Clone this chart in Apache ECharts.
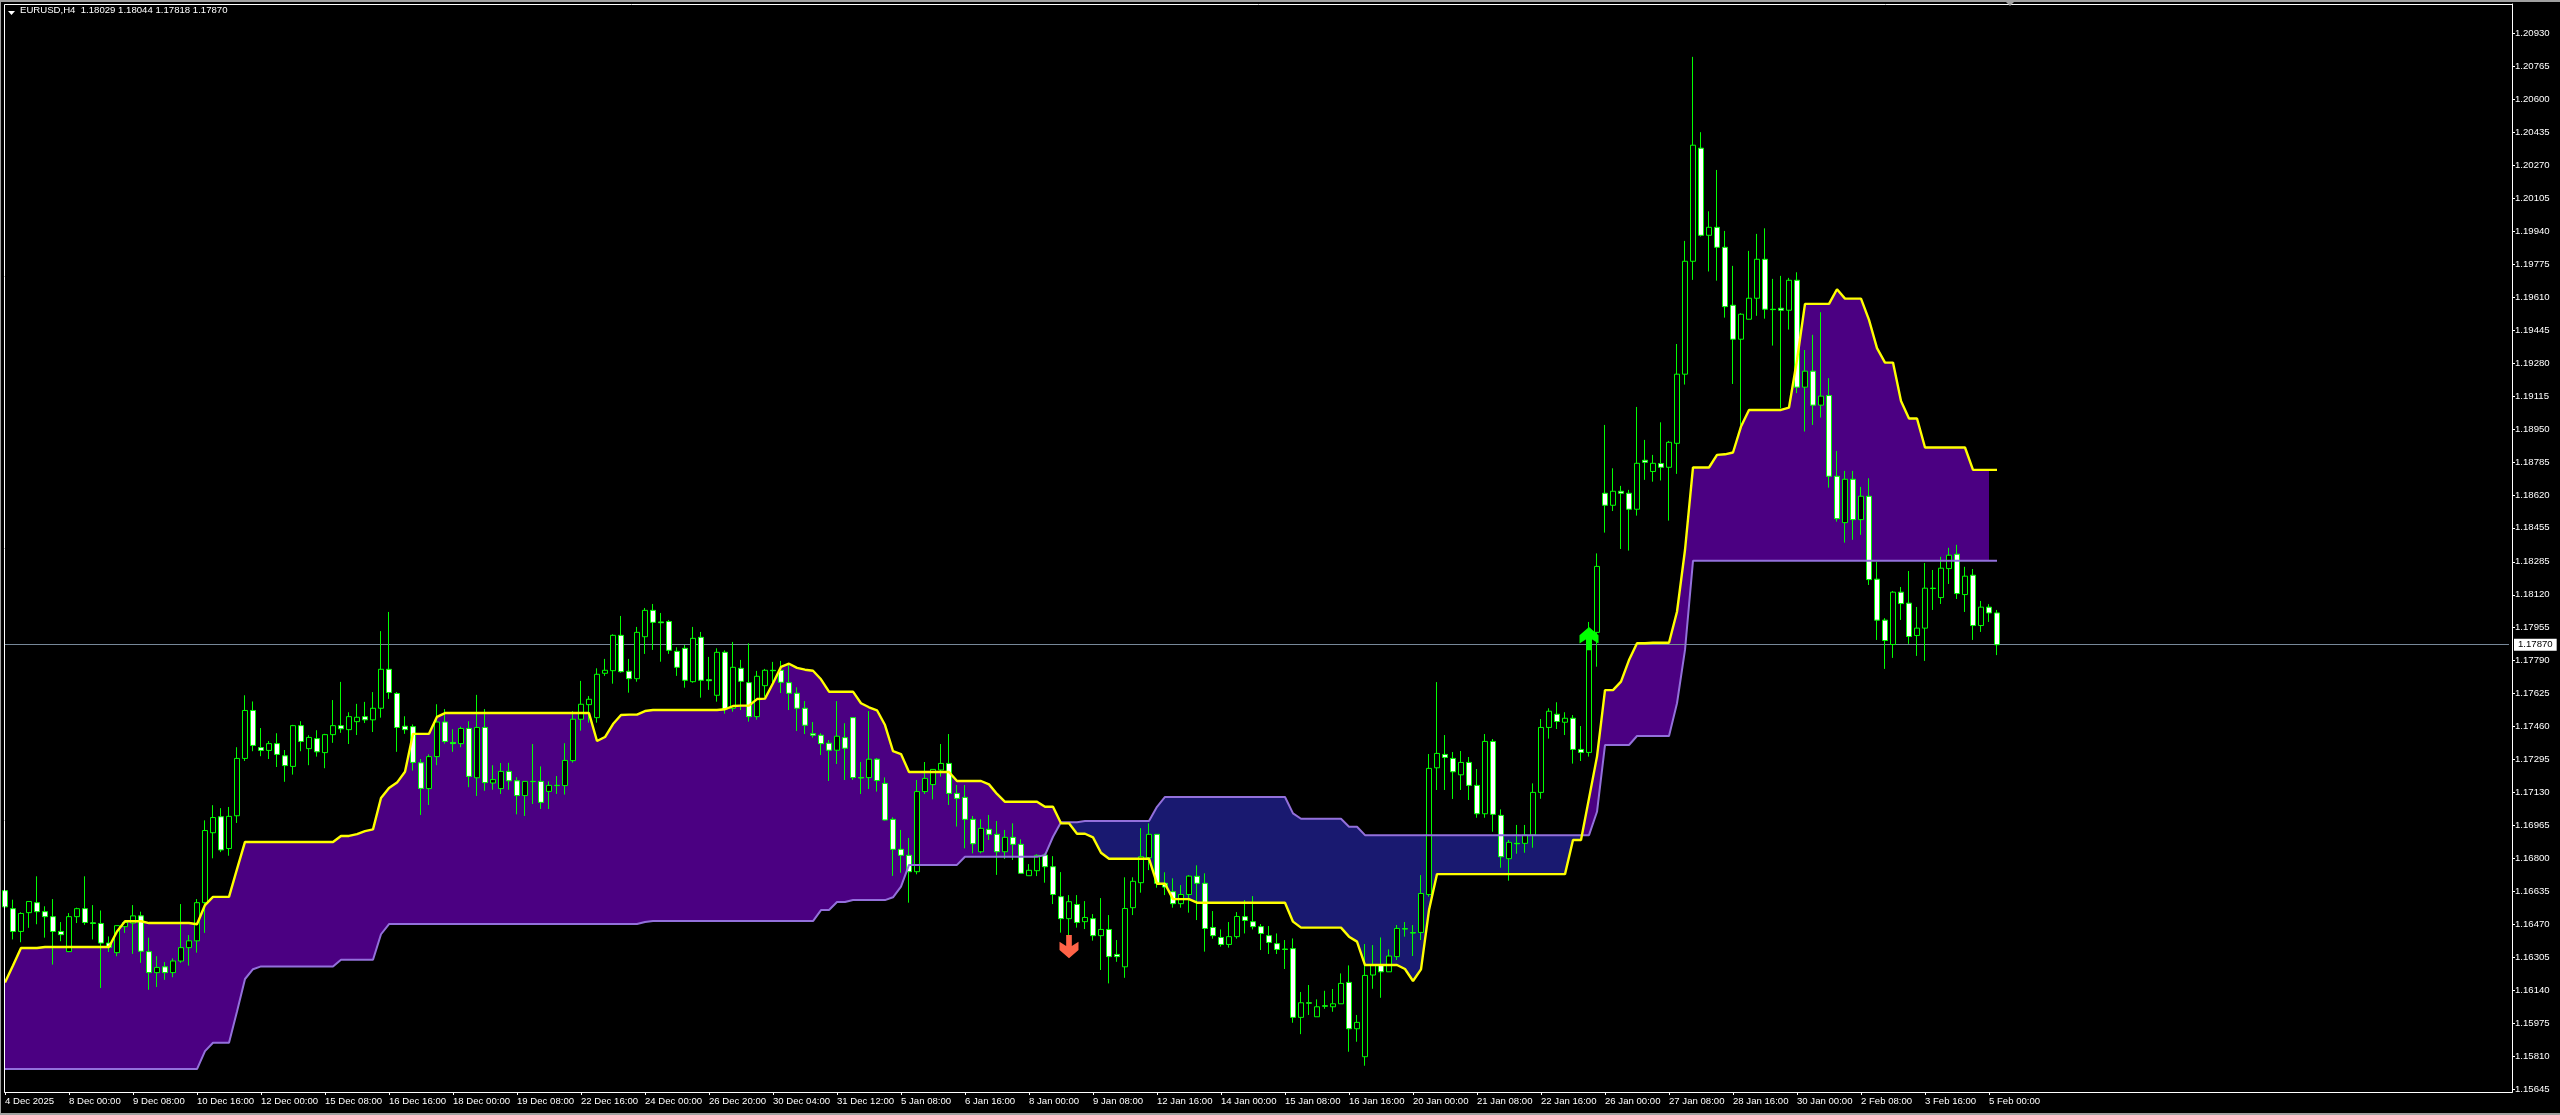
<!DOCTYPE html>
<html><head><meta charset="utf-8"><title>EURUSD,H4</title>
<script src="https://cdn.jsdelivr.net/npm/echarts@6/dist/echarts.min.js"></script>
<style>html,body{margin:0;padding:0;background:#000}#c{width:2560px;height:1115px}</style>
</head><body><div id="c"></div>
<script>
const titleText = 'EURUSD,H4  1.18029 1.18044 1.17818 1.17870';
const xTickLabels = ['4 Dec 2025','8 Dec 00:00','9 Dec 08:00','10 Dec 16:00','12 Dec 00:00','15 Dec 08:00','16 Dec 16:00','18 Dec 00:00','19 Dec 08:00','22 Dec 16:00','24 Dec 00:00','26 Dec 20:00','30 Dec 04:00','31 Dec 12:00','5 Jan 08:00','6 Jan 16:00','8 Jan 00:00','9 Jan 08:00','12 Jan 16:00','14 Jan 00:00','15 Jan 08:00','16 Jan 16:00','20 Jan 00:00','21 Jan 08:00','22 Jan 16:00','26 Jan 00:00','27 Jan 08:00','28 Jan 16:00','30 Jan 00:00','2 Feb 08:00','3 Feb 16:00','5 Feb 00:00'];
const yTickValues = [1.20930,1.20765,1.20600,1.20435,1.20270,1.20105,1.19940,1.19775,1.19610,1.19445,1.19280,1.19115,1.18950,1.18785,1.18620,1.18455,1.18285,1.18120,1.17955,1.17790,1.17625,1.17460,1.17295,1.17130,1.16965,1.16800,1.16635,1.16470,1.16305,1.16140,1.15975,1.15810,1.15645];
const yMin = 1.156315, yMax = 1.210766;
const lastPrice = 1.17870;
const sellArrow = [133, 1.16359];
const buyArrow = [198, 1.17901];

const open = [
1.16639,1.16549,1.16435,1.16529,1.16579,1.16534,1.16509,1.16435,1.16334,1.16509,
1.16549,1.16478,1.16475,1.16377,1.16329,1.16459,1.16477,1.16513,1.16334,1.16229,
1.16258,1.16229,1.16287,1.16354,1.16388,1.16579,1.16929,1.17009,1.16850,1.17014,
1.17301,1.17541,1.17355,1.17341,1.17375,1.17314,1.17261,1.17465,1.17350,1.17400,
1.17330,1.17420,1.17465,1.17445,1.17485,1.17510,1.17494,1.17552,1.17747,1.17626,
1.17462,1.17460,1.17279,1.17150,1.17310,1.17483,1.17381,1.17375,1.17451,1.17204,
1.17456,1.17178,1.17150,1.17236,1.17189,1.17115,1.17186,1.17186,1.17136,1.17166,
1.17165,1.17290,1.17497,1.17570,1.17505,1.17727,1.17740,1.17917,1.17737,1.17700,
1.17910,1.18042,1.17984,1.17986,1.17837,1.17852,1.17685,1.17907,1.17695,1.17617,
1.17832,1.17552,1.17752,1.17680,1.17510,1.17665,1.17742,1.17742,1.17680,1.17627,
1.17552,1.17425,1.17417,1.17377,1.17342,1.17405,1.17505,1.17205,1.17205,1.17297,
1.17176,1.16996,1.16846,1.16816,1.16734,1.17135,1.17170,1.17243,1.17276,1.17126,
1.17106,1.16996,1.16834,1.16946,1.16921,1.16834,1.16906,1.16871,1.16714,1.16739,
1.16817,1.16759,1.16609,1.16499,1.16570,1.16484,1.16499,1.16414,1.16445,1.16320,
1.16258,1.16554,1.16679,1.16804,1.16921,1.16676,1.16634,1.16574,1.16620,1.16711,
1.16676,1.16455,1.16405,1.16370,1.16409,1.16509,1.16484,1.16459,1.16414,1.16374,
1.16347,1.16349,1.16005,1.16078,1.16008,1.16063,1.16058,1.16073,1.16180,1.15948,
1.15808,1.16217,1.16267,1.16233,1.16309,1.16449,1.16429,1.16430,1.16620,1.17254,
1.17321,1.17301,1.17219,1.17281,1.17166,1.17024,1.17386,1.17016,1.16799,1.16876,
1.16876,1.16918,1.17131,1.17456,1.17522,1.17482,1.17502,1.17346,1.17331,1.17932,
1.18628,1.18568,1.18638,1.18628,1.18548,1.18793,1.18737,1.18777,1.18758,1.18878,
1.19224,1.19789,1.20355,1.19919,1.19959,1.19859,1.19569,1.19399,1.19499,1.19604,
1.19799,1.19549,1.19554,1.19544,1.19694,1.19159,1.19239,1.19069,1.19117,1.18713,
1.18481,1.18698,1.18496,1.18613,1.18198,1.17993,1.17871,1.18133,1.18078,1.17916,
1.17953,1.18153,1.18106,1.18251,1.18323,1.18121,1.18218,1.17966,1.18058,1.18029];
const high = [
1.16762,1.16594,1.16531,1.16585,1.16711,1.16561,1.16597,1.16482,1.16527,1.16554,
1.16711,1.16567,1.16540,1.16410,1.16464,1.16486,1.16567,1.16534,1.16404,1.16311,
1.16282,1.16300,1.16572,1.16417,1.16597,1.16991,1.17067,1.17052,1.17058,1.17357,
1.17617,1.17586,1.17453,1.17388,1.17427,1.17343,1.17469,1.17487,1.17417,1.17442,
1.17424,1.17593,1.17684,1.17532,1.17574,1.17584,1.17633,1.17938,1.18034,1.17633,
1.17512,1.17471,1.17298,1.17321,1.17572,1.17548,1.17447,1.17460,1.17487,1.17619,
1.17548,1.17267,1.17278,1.17279,1.17207,1.17186,1.17373,1.17261,1.17186,1.17213,
1.17377,1.17537,1.17689,1.17613,1.17752,1.17799,1.17922,1.18014,1.17799,1.17959,
1.18054,1.18074,1.18029,1.17994,1.17857,1.17869,1.17959,1.17934,1.17809,1.17852,
1.17842,1.17884,1.17794,1.17877,1.17739,1.17749,1.17784,1.17789,1.17769,1.17657,
1.17588,1.17483,1.17427,1.17393,1.17588,1.17477,1.17505,1.17283,1.17538,1.17303,
1.17206,1.17006,1.16943,1.16903,1.17193,1.17283,1.17246,1.17373,1.17423,1.17168,
1.17168,1.17013,1.16996,1.17018,1.16988,1.16943,1.16976,1.16896,1.16772,1.16821,
1.16826,1.16812,1.16732,1.16617,1.16617,1.16587,1.16522,1.16602,1.16517,1.16392,
1.16706,1.16706,1.16952,1.16976,1.16921,1.16731,1.16701,1.16667,1.16717,1.16766,
1.16726,1.16537,1.16445,1.16482,1.16532,1.16592,1.16612,1.16472,1.16462,1.16425,
1.16392,1.16400,1.16132,1.16167,1.16095,1.16138,1.16147,1.16225,1.16265,1.16017,
1.16372,1.16367,1.16405,1.16345,1.16467,1.16482,1.16467,1.16717,1.17323,1.17683,
1.17418,1.17333,1.17338,1.17308,1.17248,1.17423,1.17398,1.17046,1.16893,1.16968,
1.16968,1.17176,1.17498,1.17552,1.17582,1.17532,1.17518,1.17463,1.17984,1.18327,
1.18970,1.18753,1.18665,1.18645,1.19060,1.18895,1.18820,1.18983,1.18890,1.19375,
1.19891,1.20812,1.20435,1.20039,1.20246,1.19941,1.19766,1.19529,1.19841,1.19926,
1.19954,1.19701,1.19716,1.19706,1.19734,1.19345,1.19421,1.19534,1.19204,1.18840,
1.18740,1.18740,1.18660,1.18703,1.18285,1.18003,1.18139,1.18159,1.18239,1.18059,
1.18279,1.18244,1.18310,1.18355,1.18370,1.18260,1.18249,1.18089,1.18073,1.18044];
const low = [
1.16518,1.16395,1.16381,1.16453,1.16471,1.16404,1.16269,1.16386,1.16332,1.16477,
1.16468,1.16395,1.16152,1.16332,1.16311,1.16428,1.16323,1.16278,1.16143,1.16157,
1.16193,1.16206,1.16278,1.16264,1.16329,1.16428,1.16801,1.16832,1.16814,1.16978,
1.17288,1.17337,1.17312,1.17298,1.17258,1.17184,1.17220,1.17337,1.17267,1.17310,
1.17252,1.17379,1.17429,1.17373,1.17418,1.17478,1.17433,1.17505,1.17599,1.17334,
1.17424,1.17240,1.17018,1.17068,1.17267,1.17375,1.17334,1.17357,1.17157,1.17113,
1.17139,1.17144,1.17123,1.17144,1.17021,1.17013,1.17073,1.17048,1.17048,1.17123,
1.17120,1.17280,1.17440,1.17480,1.17480,1.17714,1.17675,1.17730,1.17630,1.17685,
1.17824,1.17844,1.17785,1.17824,1.17714,1.17655,1.17680,1.17605,1.17644,1.17585,
1.17525,1.17535,1.17543,1.17485,1.17495,1.17610,1.17677,1.17628,1.17543,1.17438,
1.17423,1.17405,1.17318,1.17188,1.17273,1.17193,1.17193,1.17123,1.17148,1.17135,
1.16990,1.16713,1.16729,1.16579,1.16721,1.17123,1.17096,1.17210,1.17068,1.16960,
1.16851,1.16826,1.16826,1.16893,1.16718,1.16798,1.16793,1.16726,1.16714,1.16712,
1.16679,1.16572,1.16429,1.16417,1.16454,1.16447,1.16389,1.16242,1.16175,1.16283,
1.16203,1.16517,1.16629,1.16742,1.16654,1.16617,1.16554,1.16554,1.16529,1.16492,
1.16334,1.16399,1.16359,1.16354,1.16399,1.16425,1.16445,1.16342,1.16322,1.16322,
1.16247,1.15978,1.15921,1.16017,1.16008,1.16048,1.16033,1.16073,1.15833,1.15883,
1.15763,1.16148,1.16103,1.16233,1.16292,1.16409,1.16312,1.16392,1.16609,1.17143,
1.17143,1.17098,1.17143,1.17093,1.17004,1.17004,1.16934,1.16754,1.16689,1.16824,
1.16829,1.16854,1.17099,1.17400,1.17448,1.17418,1.17275,1.17288,1.17310,1.17760,
1.18431,1.18539,1.18349,1.18341,1.18516,1.18695,1.18686,1.18692,1.18491,1.18725,
1.19172,1.19696,1.19913,1.19738,1.19692,1.19507,1.19175,1.18970,1.19499,1.19516,
1.19502,1.19367,1.19053,1.19447,1.19129,1.18937,1.18970,1.19007,1.18656,1.18486,
1.18381,1.18395,1.18420,1.18169,1.17894,1.17749,1.17804,1.17994,1.17874,1.17814,
1.17789,1.18044,1.18074,1.18174,1.18099,1.18034,1.17894,1.17934,1.17984,1.17818];
const close = [
1.16558,1.16435,1.16525,1.16585,1.16534,1.16509,1.16435,1.16419,1.16509,1.16549,
1.16480,1.16475,1.16377,1.16356,1.16464,1.16480,1.16513,1.16336,1.16229,1.16255,
1.16229,1.16287,1.16354,1.16388,1.16579,1.16940,1.17005,1.16843,1.17011,1.17301,
1.17541,1.17366,1.17341,1.17375,1.17321,1.17265,1.17465,1.17386,1.17406,1.17334,
1.17420,1.17465,1.17449,1.17510,1.17507,1.17494,1.17552,1.17747,1.17631,1.17456,
1.17445,1.17281,1.17151,1.17310,1.17483,1.17386,1.17375,1.17451,1.17211,1.17456,
1.17180,1.17195,1.17236,1.17189,1.17115,1.17186,1.17185,1.17081,1.17166,1.17165,
1.17291,1.17497,1.17572,1.17597,1.17722,1.17742,1.17917,1.17735,1.17700,1.17932,
1.18042,1.17982,1.17980,1.17842,1.17757,1.17692,1.17902,1.17692,1.17690,1.17832,
1.17548,1.17757,1.17687,1.17510,1.17712,1.17742,1.17740,1.17682,1.17627,1.17552,
1.17467,1.17417,1.17375,1.17342,1.17412,1.17352,1.17205,1.17203,1.17297,1.17190,
1.16993,1.16846,1.16816,1.16734,1.17135,1.17201,1.17246,1.17276,1.17126,1.17101,
1.16996,1.16874,1.16951,1.16921,1.16834,1.16906,1.16871,1.16726,1.16741,1.16816,
1.16759,1.16620,1.16499,1.16584,1.16480,1.16505,1.16414,1.16445,1.16309,1.16309,
1.16550,1.16686,1.16809,1.16921,1.16676,1.16657,1.16574,1.16620,1.16712,1.16676,
1.16450,1.16414,1.16370,1.16409,1.16510,1.16490,1.16459,1.16425,1.16380,1.16345,
1.16345,1.16005,1.16078,1.16076,1.16058,1.16061,1.16073,1.16175,1.15948,1.15980,
1.16215,1.16267,1.16233,1.16312,1.16450,1.16447,1.16427,1.16625,1.17251,1.17326,
1.17306,1.17234,1.17281,1.17166,1.17024,1.17386,1.17021,1.16809,1.16881,1.16874,
1.16918,1.17131,1.17456,1.17537,1.17486,1.17502,1.17346,1.17331,1.17932,1.18262,
1.18568,1.18638,1.18628,1.18548,1.18778,1.18783,1.18778,1.18758,1.18883,1.19224,
1.19789,1.20370,1.19919,1.19959,1.19859,1.19562,1.19399,1.19524,1.19604,1.19799,
1.19549,1.19547,1.19544,1.19694,1.19159,1.19239,1.19069,1.19114,1.18713,1.18501,
1.18698,1.18496,1.18613,1.18196,1.17993,1.17891,1.18133,1.18076,1.17911,1.17953,
1.18153,1.18151,1.18253,1.18318,1.18126,1.18213,1.17966,1.18058,1.18029,1.17870];
const senkouA = [
1.16179,1.16265,1.16352,1.16352,1.16352,1.16357,1.16357,1.16357,1.16357,1.16357,
1.16357,1.16357,1.16357,1.16357,1.16435,1.16486,1.16486,1.16486,1.16477,1.16477,
1.16477,1.16477,1.16477,1.16477,1.16471,1.16567,1.16608,1.16608,1.16608,1.16747,
1.16883,1.16883,1.16883,1.16883,1.16883,1.16883,1.16883,1.16883,1.16883,1.16883,
1.16883,1.16883,1.16913,1.16913,1.16922,1.16937,1.16946,1.17103,1.17153,1.17180,
1.17234,1.17424,1.17424,1.17424,1.17509,1.17528,1.17528,1.17528,1.17528,1.17528,
1.17528,1.17528,1.17528,1.17528,1.17528,1.17528,1.17528,1.17528,1.17528,1.17528,
1.17528,1.17528,1.17528,1.17528,1.17388,1.17408,1.17473,1.17518,1.17520,1.17520,
1.17538,1.17543,1.17543,1.17543,1.17543,1.17543,1.17543,1.17543,1.17543,1.17543,
1.17547,1.17563,1.17565,1.17565,1.17598,1.17600,1.17677,1.17759,1.17775,1.17754,
1.17745,1.17740,1.17697,1.17635,1.17635,1.17635,1.17635,1.17577,1.17557,1.17542,
1.17468,1.17337,1.17323,1.17233,1.17233,1.17233,1.17233,1.17233,1.17233,1.17188,
1.17188,1.17188,1.17188,1.17171,1.17123,1.17084,1.17084,1.17084,1.17084,1.17084,
1.17059,1.17059,1.16976,1.16976,1.16924,1.16924,1.16906,1.16829,1.16799,1.16799,
1.16799,1.16799,1.16799,1.16799,1.16674,1.16674,1.16597,1.16597,1.16597,1.16579,
1.16579,1.16579,1.16579,1.16579,1.16579,1.16579,1.16579,1.16579,1.16579,1.16579,
1.16579,1.16484,1.16454,1.16454,1.16454,1.16454,1.16454,1.16454,1.16409,1.16384,
1.16267,1.16267,1.16267,1.16267,1.16267,1.16247,1.16187,1.16245,1.16542,1.16722,
1.16722,1.16722,1.16722,1.16722,1.16722,1.16722,1.16722,1.16722,1.16722,1.16722,
1.16722,1.16722,1.16722,1.16722,1.16722,1.16722,1.16893,1.16893,1.17101,1.17310,
1.17643,1.17643,1.17685,1.17793,1.17877,1.17877,1.17880,1.17880,1.17880,1.18035,
1.18344,1.18757,1.18757,1.18757,1.18820,1.18823,1.18832,1.18962,1.19045,1.19045,
1.19045,1.19045,1.19045,1.19057,1.19295,1.19576,1.19576,1.19576,1.19576,1.19649,
1.19602,1.19602,1.19602,1.19496,1.19354,1.19282,1.19282,1.19090,1.19002,1.19002,
1.18857,1.18857,1.18857,1.18857,1.18857,1.18857,1.18745,1.18745,1.18745,1.18745];
const senkouB = [
1.15746,1.15746,1.15746,1.15746,1.15746,1.15746,1.15746,1.15746,1.15746,1.15746,
1.15746,1.15746,1.15746,1.15746,1.15746,1.15746,1.15746,1.15746,1.15746,1.15746,
1.15746,1.15746,1.15746,1.15746,1.15746,1.15836,1.15878,1.15878,1.15878,1.16034,
1.16197,1.16246,1.16260,1.16260,1.16260,1.16260,1.16260,1.16260,1.16260,1.16260,
1.16260,1.16260,1.16293,1.16293,1.16293,1.16293,1.16293,1.16421,1.16472,1.16472,
1.16472,1.16472,1.16472,1.16472,1.16472,1.16472,1.16472,1.16472,1.16472,1.16472,
1.16472,1.16472,1.16472,1.16472,1.16472,1.16472,1.16472,1.16472,1.16472,1.16472,
1.16472,1.16472,1.16472,1.16472,1.16472,1.16472,1.16472,1.16472,1.16472,1.16472,
1.16482,1.16487,1.16487,1.16487,1.16487,1.16487,1.16487,1.16487,1.16487,1.16487,
1.16487,1.16487,1.16487,1.16487,1.16487,1.16487,1.16487,1.16487,1.16487,1.16487,
1.16487,1.16487,1.16542,1.16542,1.16582,1.16582,1.16592,1.16592,1.16592,1.16592,
1.16592,1.16606,1.16659,1.16768,1.16768,1.16768,1.16768,1.16768,1.16768,1.16768,
1.16809,1.16809,1.16809,1.16809,1.16809,1.16809,1.16809,1.16809,1.16809,1.16809,
1.16817,1.16909,1.16982,1.16982,1.16982,1.16988,1.16988,1.16988,1.16988,1.16988,
1.16988,1.16988,1.16988,1.16988,1.17059,1.17108,1.17108,1.17108,1.17108,1.17108,
1.17108,1.17108,1.17108,1.17108,1.17108,1.17108,1.17108,1.17108,1.17108,1.17108,
1.17108,1.17026,1.16999,1.16999,1.16999,1.16999,1.16999,1.16999,1.16959,1.16959,
1.16917,1.16917,1.16917,1.16917,1.16917,1.16917,1.16917,1.16917,1.16917,1.16917,
1.16917,1.16917,1.16917,1.16917,1.16917,1.16917,1.16917,1.16917,1.16917,1.16917,
1.16917,1.16917,1.16917,1.16917,1.16917,1.16917,1.16917,1.16917,1.16917,1.17034,
1.17368,1.17368,1.17368,1.17368,1.17413,1.17413,1.17413,1.17413,1.17413,1.17577,
1.17844,1.18290,1.18290,1.18290,1.18290,1.18290,1.18290,1.18290,1.18290,1.18290,
1.18290,1.18290,1.18290,1.18290,1.18290,1.18290,1.18290,1.18290,1.18290,1.18290,
1.18290,1.18290,1.18290,1.18290,1.18290,1.18290,1.18290,1.18290,1.18290,1.18290,
1.18290,1.18290,1.18290,1.18290,1.18290,1.18290,1.18290,1.18290,1.18290,1.18290];

const LABEL_EVERY = 8, SLOT_COUNT = 314, FILL_LAST = 248;
const FONT = '"Liberation Sans", Arial, sans-serif';
const categories = Array.from({length: SLOT_COUNT}, (_, i) =>
  i % LABEL_EVERY === 0 && xTickLabels[i / LABEL_EVERY] !== undefined ? xTickLabels[i / LABEL_EVERY] : '');
const candleRows = open.map((o, i) => [o, close[i], low[i], high[i]]);
const cloudRows = [];
for (let i = 0; i < FILL_LAST; i++) cloudRows.push([i, senkouA[i], senkouB[i], senkouA[i + 1], senkouB[i + 1]]);
const lastLabelled = (xTickLabels.length - 1) * LABEL_EVERY;
const showSlot = i => i % LABEL_EVERY === 0 && i <= lastLabelled;
const UP_FILL = '#4b0082', DOWN_FILL = '#191970';

function renderCloud(params, api) {
  const i = api.value(0), a0 = api.value(1), b0 = api.value(2), a1 = api.value(3), b1 = api.value(4);
  const pa0 = api.coord([i, a0]), pb0 = api.coord([i, b0]), pa1 = api.coord([i + 1, a1]), pb1 = api.coord([i + 1, b1]);
  const d0 = a0 - b0, d1 = a1 - b1;
  const poly = (pts, c) => ({type: 'polygon', shape: {points: pts}, style: {fill: c, stroke: null}, silent: true});
  if ((d0 >= 0) === (d1 >= 0)) {
    return poly([pa0, pa1, pb1, pb0], d0 >= 0 ? UP_FILL : DOWN_FILL);
  }
  const t = d0 / (d0 - d1);
  const m = [pa0[0] + (pa1[0] - pa0[0]) * t, pa0[1] + (pa1[1] - pa0[1]) * t];
  return {type: 'group', children: [
    poly([pa0, m, pb0], d0 >= 0 ? UP_FILL : DOWN_FILL),
    poly([m, pa1, pb1], d1 >= 0 ? UP_FILL : DOWN_FILL)
  ]};
}

const DOWN_ARROW = 'path://M7 0L12.5 0L12.5 11L19 6.7L19 15L9.75 23.3L0.5 15L0.5 6.7L7 11Z';
const UP_ARROW = 'path://M7 23.3L12.5 23.3L12.5 12.3L19 16.6L19 8.3L9.75 0L0.5 8.3L0.5 16.6L7 12.3Z';

const chart = echarts.init(document.getElementById('c'), null, {renderer: 'canvas'});
chart.setOption({
  animation: false,
  backgroundColor: '#000000',
  title: {text: titleText, left: 20, top: 5, padding: 0,
    textStyle: {color: '#ffffff', fontFamily: FONT, fontSize: 9.6, fontWeight: 'normal'}},
  grid: {left: 5, top: 4, width: 2504, height: 1088, containLabel: false},
  xAxis: {
    type: 'category', data: categories, boundaryGap: false,
    axisLine: {show: true, lineStyle: {color: '#ffffff', width: 1}},
    axisTick: {show: true, interval: i => showSlot(i), length: 3, lineStyle: {color: '#ffffff'}},
    axisLabel: {interval: i => showSlot(i), align: 'left', margin: 4, color: '#ffffff',
      fontFamily: FONT, fontSize: 9.6, hideOverlap: false},
    splitLine: {show: false}
  },
  yAxis: {
    type: 'value', position: 'right', offset: 3, min: yMin, max: yMax, scale: true,
    axisLine: {show: true, lineStyle: {color: '#ffffff', width: 1}},
    axisTick: {show: true, length: 3, customValues: yTickValues, lineStyle: {color: '#ffffff'}},
    axisLabel: {customValues: yTickValues, margin: 3, color: '#ffffff', fontFamily: FONT, fontSize: 9.6,
      formatter: v => v.toFixed(5)},
    splitLine: {show: false}
  },
  graphic: [
    {type: 'rect', silent: true, z: 100, shape: {x: 4.5, y: 4.5, width: 2508, height: 1088},
      style: {fill: null, stroke: '#ffffff', lineWidth: 1}},
    {type: 'rect', silent: true, shape: {x: 0, y: 0, width: 2560, height: 2}, style: {fill: '#a0a0a0'}},
    {type: 'rect', silent: true, shape: {x: 0, y: 1113, width: 2560, height: 2}, style: {fill: '#a0a0a0'}},
    {type: 'rect', silent: true, shape: {x: 0, y: 0, width: 1, height: 1115}, style: {fill: '#a0a0a0'}},
    {type: 'polygon', silent: true, z: 100, shape: {points: [[8, 11], [15, 11], [11.5, 15]]}, style: {fill: '#ffffff'}},
    {type: 'polygon', silent: true, z: 100, shape: {points: [[2006, 2], [2014, 2], [2010, 6]]}, style: {fill: '#a0a0a0'}}
  ],
  series: [
    {type: 'custom', name: 'Cloud', z: 1, silent: true, clip: true, renderItem: renderCloud,
      encode: {x: 0, y: [1, 2]}, data: cloudRows},
    {type: 'candlestick', name: 'EURUSD,H4', z: 3, silent: true, barWidth: 5, data: candleRows,
      itemStyle: {color: '#000000', color0: '#ffffff', borderColor: '#00ff00', borderColor0: '#00ff00', borderWidth: 1},
      markLine: {silent: true, z: 2, precision: 5, symbol: 'none', animation: false,
        lineStyle: {color: '#778899', width: 1, type: 'solid'},
        label: {show: true, position: 'end', distance: 5, color: '#000000', backgroundColor: '#ffffff',
          padding: [1, 4, 1, 4], fontFamily: FONT, fontSize: 9.6, formatter: () => lastPrice.toFixed(5)},
        data: [{yAxis: lastPrice}]}},
    {type: 'line', name: 'Senkou B', z: 4, silent: true, showSymbol: false, symbol: 'none', data: senkouB,
      lineStyle: {color: '#9370db', width: 2}},
    {type: 'line', name: 'Senkou A', z: 5, silent: true, showSymbol: false, symbol: 'none', data: senkouA,
      lineStyle: {color: '#ffff00', width: 2.4}},
    {type: 'scatter', name: 'Sell', z: 6, silent: true, symbol: DOWN_ARROW, symbolSize: [19, 23.3], data: [sellArrow],
      itemStyle: {color: '#ff6347', opacity: 1}},
    {type: 'scatter', name: 'Buy', z: 6, silent: true, symbol: UP_ARROW, symbolSize: [19, 23.3], data: [buyArrow],
      itemStyle: {color: '#00ff00', opacity: 1}}
  ]
});
</script></body></html>
